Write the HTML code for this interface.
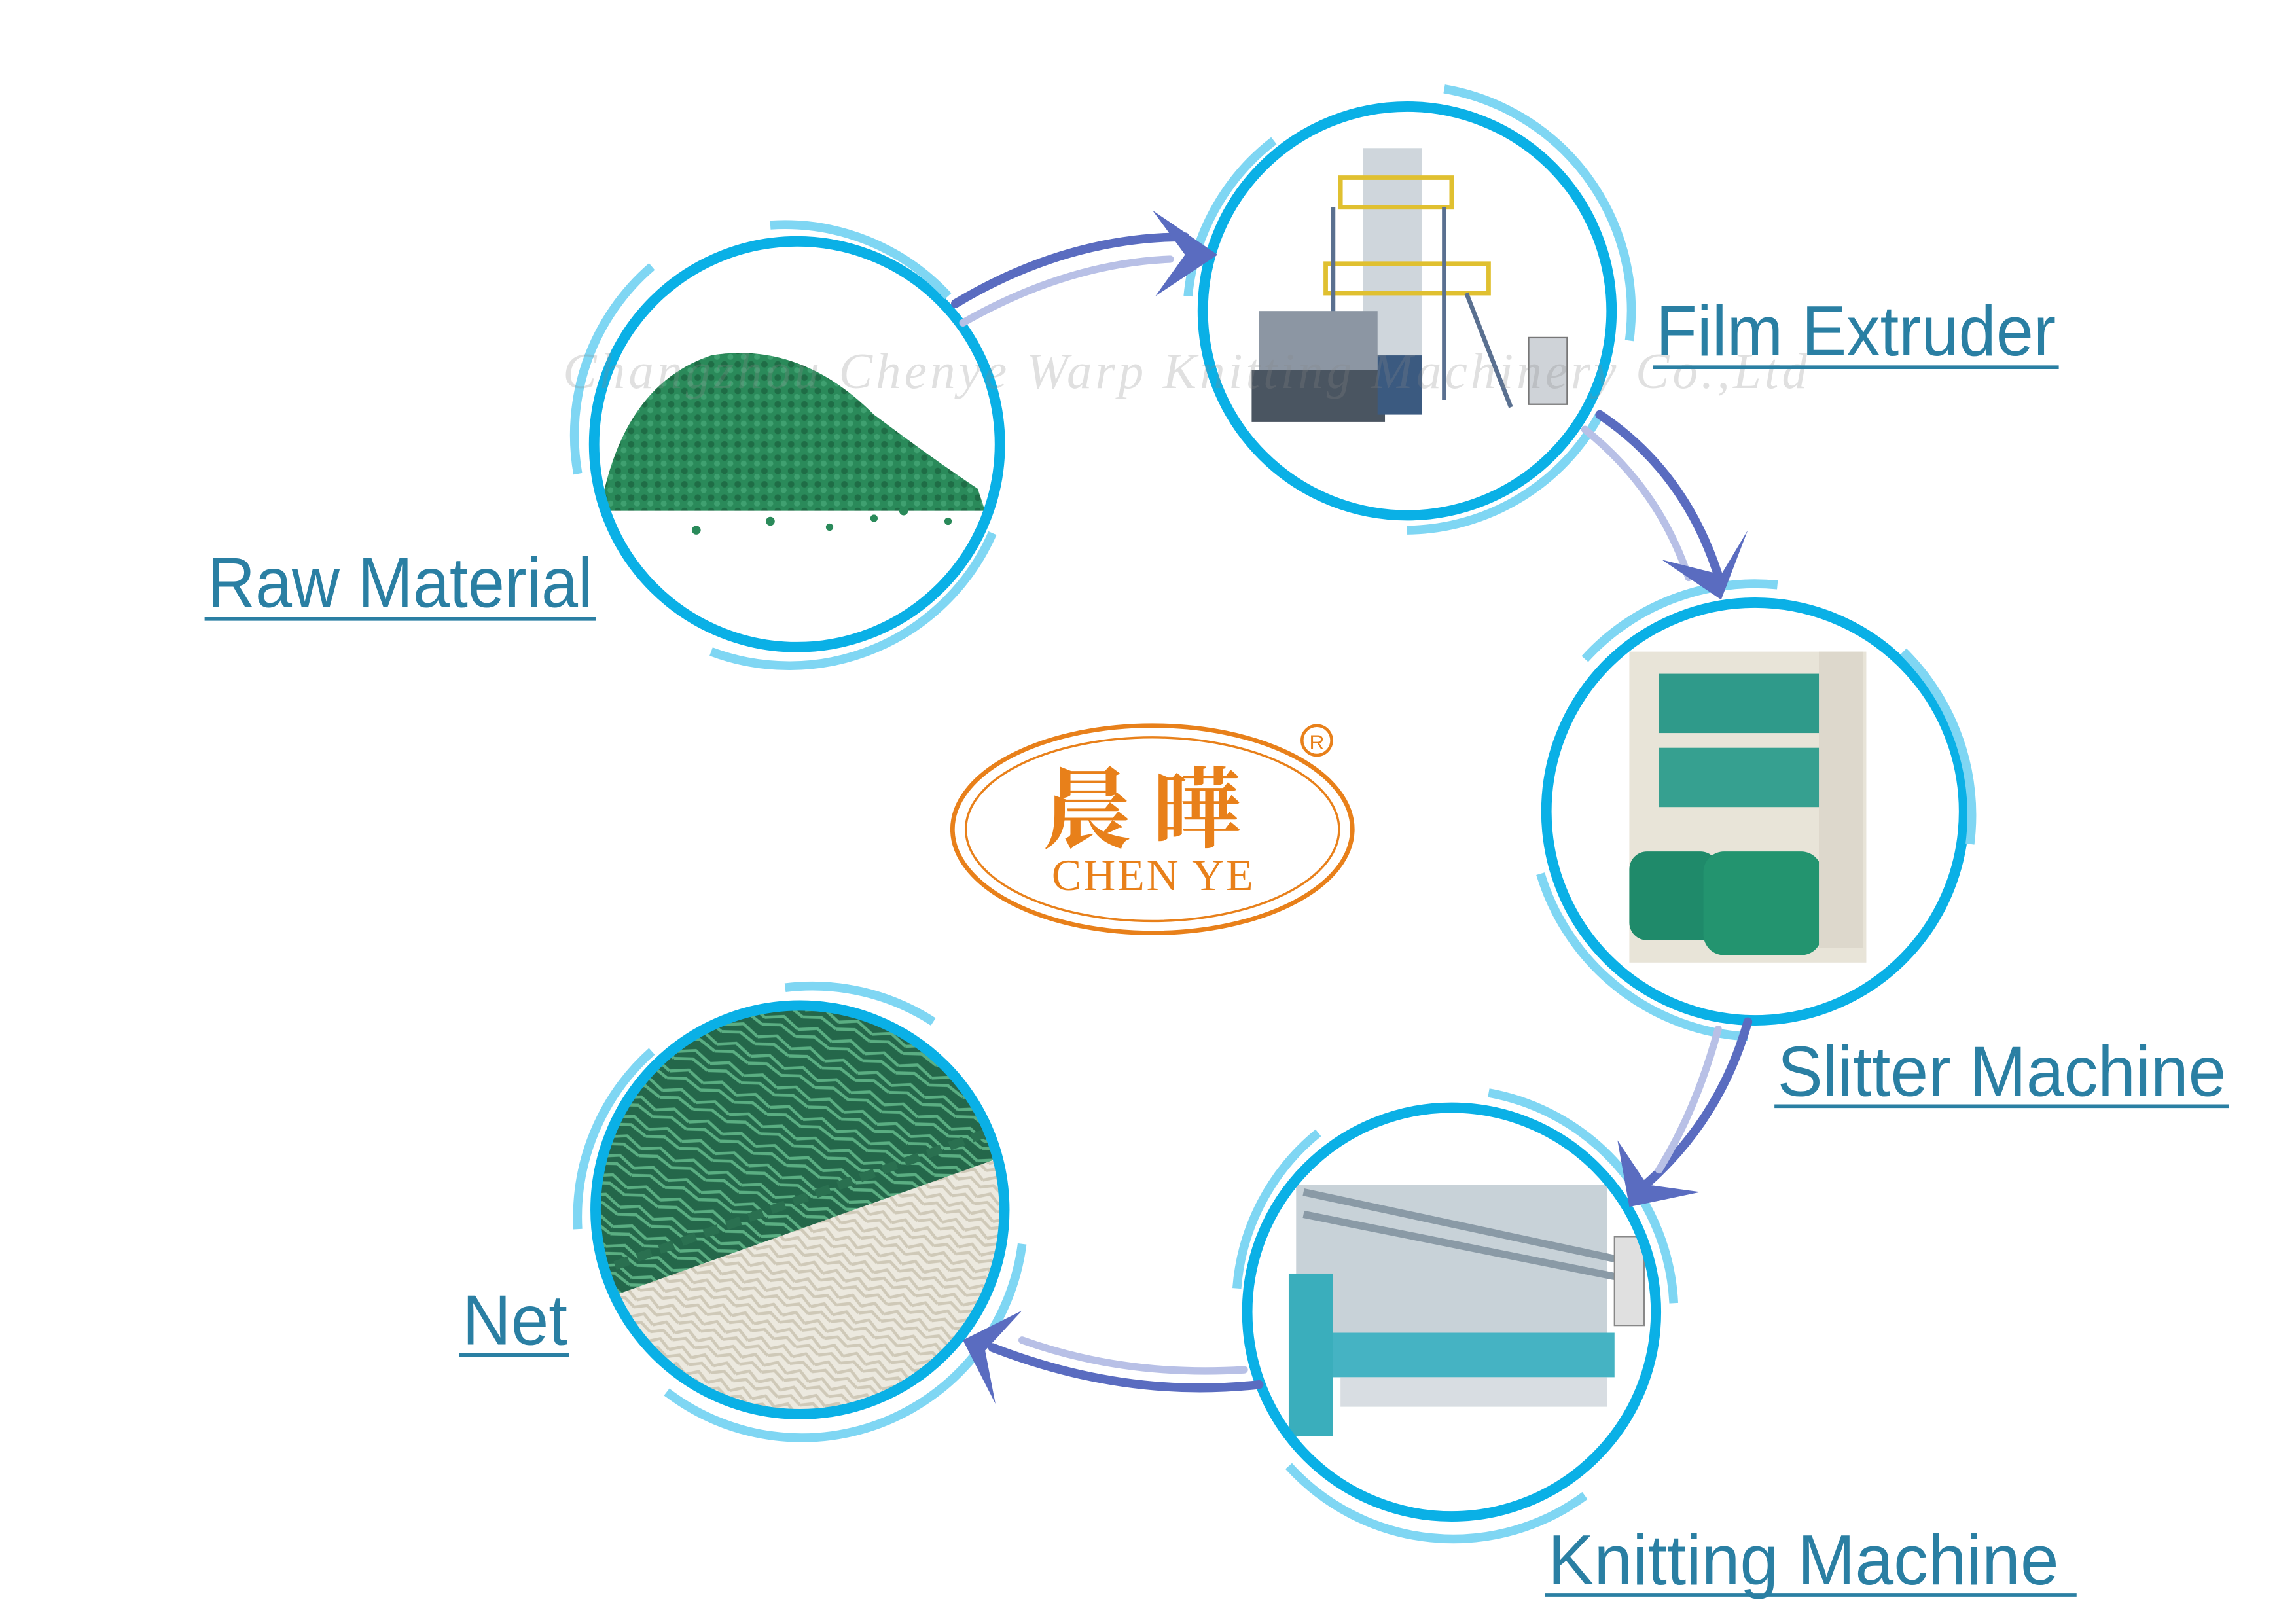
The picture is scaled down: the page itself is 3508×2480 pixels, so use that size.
<!DOCTYPE html>
<html><head><meta charset="utf-8"><style>
html,body{margin:0;padding:0;background:#fff}
svg{display:block}
.lbl{font-family:"Liberation Sans Narrow","Liberation Sans",sans-serif;fill:#2a7fa3;font-size:48px}
</style></head><body>
<svg width="3508" height="2480" viewBox="0 0 1550 1096" xmlns="http://www.w3.org/2000/svg">
<rect width="1550" height="1096" fill="#fff"/>
<defs>
<clipPath id="c1"><circle cx="538" cy="300" r="134"/></clipPath>
<clipPath id="c2"><circle cx="950" cy="210" r="135"/></clipPath>
<clipPath id="c3"><circle cx="1185" cy="548" r="138"/></clipPath>
<clipPath id="c4"><circle cx="980" cy="886" r="135"/></clipPath>
<clipPath id="c5"><circle cx="540" cy="817" r="135"/></clipPath>
<pattern id="net" width="24" height="14" patternUnits="userSpaceOnUse" patternTransform="rotate(20)">
<rect width="24" height="14" fill="#24674a"/><path d="M0 7 L12 2 L24 7 M0 12 L12 8 L24 12" stroke="#5aae82" stroke-width="2" fill="none"/></pattern>
<pattern id="wnet" width="16" height="12" patternUnits="userSpaceOnUse" patternTransform="rotate(20)">
<rect width="16" height="12" fill="#ece9df"/><path d="M0 6 L8 1 L16 6 M0 11 L8 7 L16 11" stroke="#cfc9b8" stroke-width="2" fill="none"/></pattern>
<pattern id="grain" width="9" height="9" patternUnits="userSpaceOnUse">
<rect width="9" height="9" fill="#2a8a5a"/><circle cx="3" cy="3" r="2.2" fill="#1f6d46"/><circle cx="7" cy="7" r="2" fill="#3fa070"/></pattern>
</defs>

<g clip-path="url(#c1)">
<rect x="390" y="150" width="300" height="300" fill="#fff"/>
<path d="M405 345 Q420 260 480 240 Q540 230 590 280 Q630 310 660 330 L665 345 Z" fill="url(#grain)"/>
<g fill="#2a8a5a"><circle cx="470" cy="358" r="3"/><circle cx="520" cy="352" r="3"/><circle cx="560" cy="356" r="2.5"/><circle cx="610" cy="345" r="3"/><circle cx="640" cy="352" r="2.5"/><circle cx="590" cy="350" r="2.5"/></g>
</g>
<g clip-path="url(#c2)">
<rect x="810" y="70" width="280" height="280" fill="#fff"/>
<rect x="920" y="100" width="40" height="170" fill="#cfd6dc"/>
<rect x="905" y="120" width="75" height="20" fill="none" stroke="#e0c030" stroke-width="3"/>
<rect x="895" y="178" width="110" height="20" fill="none" stroke="#e0c030" stroke-width="3"/>
<path d="M900 140 V270 M975 140 V270 M990 198 L1020 275" stroke="#5a7090" stroke-width="3"/>
<rect x="850" y="210" width="80" height="70" fill="#8c96a3"/>
<rect x="845" y="250" width="90" height="35" fill="#4a5561"/>
<rect x="930" y="240" width="30" height="40" fill="#3b5a80"/>
<rect x="1032" y="228" width="26" height="45" fill="#cfd3d8" stroke="#777"/>
</g>
<g clip-path="url(#c3)">
<rect x="1040" y="405" width="290" height="290" fill="#fff"/>
<rect x="1100" y="440" width="160" height="210" fill="#e8e4d8"/>
<rect x="1120" y="455" width="110" height="40" fill="#2f9a8a"/>
<rect x="1120" y="505" width="110" height="40" fill="#36a090"/>
<rect x="1100" y="575" width="60" height="60" rx="12" fill="#1f8a6a"/>
<rect x="1150" y="575" width="80" height="70" rx="14" fill="#23946f"/>
<rect x="1228" y="440" width="30" height="200" fill="#ddd8cc"/>
</g>
<g clip-path="url(#c4)">
<rect x="840" y="745" width="285" height="285" fill="#fff"/>
<rect x="875" y="800" width="210" height="130" fill="#c8d2d8"/>
<path d="M880 805 L1090 850 M880 820 L1090 862" stroke="#8a9aa6" stroke-width="5"/>
<rect x="870" y="860" width="30" height="110" fill="#3aaebc"/>
<rect x="900" y="900" width="190" height="30" fill="#45b3c3"/>
<rect x="905" y="930" width="180" height="20" fill="#d8dde2"/>
<rect x="1090" y="835" width="20" height="60" fill="#e0e0e0" stroke="#888"/>
</g>
<g clip-path="url(#c5)">
<rect x="400" y="680" width="280" height="280" fill="url(#wnet)"/>
<path d="M400 680 H680 V780 L400 880 Z" fill="url(#net)"/>
<path d="M400 860 L680 760" stroke="#2a7050" stroke-width="6" stroke-dasharray="10 6"/>
</g>

<g fill="none" stroke="#0ab0e6" stroke-width="7">
<circle cx="538" cy="300" r="137"/><circle cx="950" cy="210" r="138"/>
<circle cx="1185" cy="548" r="141"/><circle cx="980" cy="886" r="138"/><circle cx="540" cy="817" r="138"/>
</g>
<g fill="none" stroke="#7fd6f3" stroke-width="6">
<path d="M520 152 A150 150 0 0 1 640 200"/><path d="M390 320 A150 150 0 0 1 440 180"/><path d="M480 440 A150 150 0 0 0 670 360"/>
<path d="M975 60 A152 152 0 0 1 1100 230"/><path d="M802 200 A150 150 0 0 1 860 95"/><path d="M950 358 A150 150 0 0 0 1080 280"/>
<path d="M1285 440 A155 155 0 0 1 1330 570"/><path d="M1070 445 A155 155 0 0 1 1200 395"/><path d="M1040 590 A155 155 0 0 0 1180 700"/>
<path d="M1005 738 A152 152 0 0 1 1130 880"/><path d="M835 870 A150 150 0 0 1 890 765"/><path d="M870 990 A150 150 0 0 0 1070 1010"/>
<path d="M530 667 A150 150 0 0 1 630 690"/><path d="M390 830 A150 150 0 0 1 440 710"/><path d="M450 940 A150 150 0 0 0 690 840"/>
</g>

<g fill="none" stroke-linecap="round">
<path d="M645 205 Q720 160 800 160" stroke="#5a6cc0" stroke-width="6"/>
<path d="M650 218 Q720 178 790 175" stroke="#b8c0e6" stroke-width="5"/>
<path d="M1080 280 Q1140 320 1162 395" stroke="#5a6cc0" stroke-width="6"/>
<path d="M1070 290 Q1120 330 1140 390" stroke="#b8c0e6" stroke-width="5"/>
<path d="M1180 690 Q1160 760 1105 805" stroke="#5a6cc0" stroke-width="6"/>
<path d="M1160 695 Q1145 750 1120 790" stroke="#b8c0e6" stroke-width="5"/>
<path d="M850 935 Q760 945 670 910" stroke="#5a6cc0" stroke-width="6"/>
<path d="M840 925 Q760 930 690 905" stroke="#b8c0e6" stroke-width="5"/>
</g>
<g fill="#5a6cc0">
<path d="M778 142 L822 172 L780 200 L800 172 Z"/>
<path d="M1122 378 L1162 405 L1180 358 L1162 388 Z"/>
<path d="M1092 770 L1100 815 L1148 805 L1112 800 Z"/>
<path d="M690 885 L650 905 L672 948 L665 912 Z"/>
</g>

<text x="380" y="262" font-family="Liberation Serif,serif" font-style="italic" font-size="34" fill="#888" opacity="0.25" textLength="840">Changzhou Chenye Warp Knitting Machinery Co.,Ltd</text>

<ellipse cx="778" cy="560" rx="135" ry="70" fill="none" stroke="#e8801a" stroke-width="3"/>
<ellipse cx="778" cy="560" rx="126" ry="62" fill="none" stroke="#e8801a" stroke-width="1.5"/>
<text x="778" y="568" text-anchor="middle" font-family="'Noto Serif CJK SC','Noto Sans CJK SC',serif" font-weight="bold" font-size="60" fill="#e8801a" letter-spacing="14">晨曄</text>
<text x="778" y="601" text-anchor="middle" font-family="'Liberation Serif',serif" font-size="30" fill="#e8801a" textLength="136">CHEN YE</text>
<circle cx="889" cy="500" r="10" fill="none" stroke="#e8801a" stroke-width="2"/>
<text x="889" y="506" text-anchor="middle" font-family="Liberation Sans,sans-serif" font-size="14" fill="#e8801a">R</text>

<text class="lbl" x="140" y="410" textLength="260" lengthAdjust="spacingAndGlyphs">Raw Material</text>
<line x1="138" y1="418" x2="402" y2="418" stroke="#2a7fa3" stroke-width="2.5"/>
<text class="lbl" x="1118" y="240" textLength="270" lengthAdjust="spacingAndGlyphs">Film Extruder</text>
<line x1="1116" y1="248" x2="1390" y2="248" stroke="#2a7fa3" stroke-width="2.5"/>
<text class="lbl" x="1200" y="740" textLength="303" lengthAdjust="spacingAndGlyphs">Slitter Machine</text>
<line x1="1198" y1="747" x2="1505" y2="747" stroke="#2a7fa3" stroke-width="2.5"/>
<text class="lbl" x="1045" y="1070" textLength="345" lengthAdjust="spacingAndGlyphs">Knitting Machine</text>
<line x1="1043" y1="1077" x2="1402" y2="1077" stroke="#2a7fa3" stroke-width="2.5"/>
<text class="lbl" x="312" y="908" textLength="71" lengthAdjust="spacingAndGlyphs">Net</text>
<line x1="310" y1="915" x2="384" y2="915" stroke="#2a7fa3" stroke-width="2.5"/>
</svg>
</body></html>
